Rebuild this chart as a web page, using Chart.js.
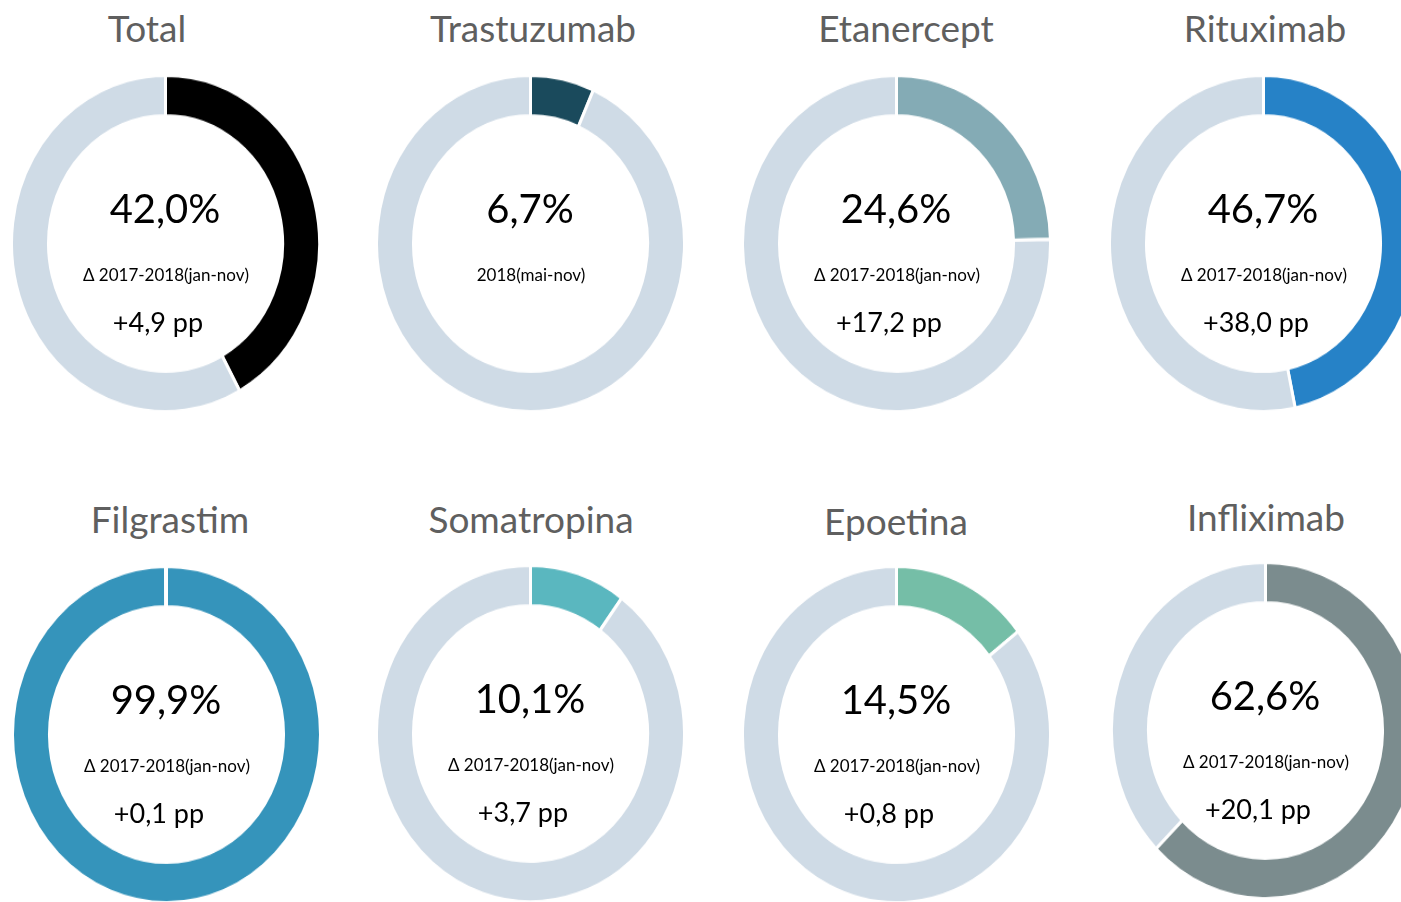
<!DOCTYPE html>
<html>
<head>
<meta charset="utf-8">
<script src="https://cdn.jsdelivr.net/npm/chart.js@4/dist/chart.umd.min.js"></script>
<style>
  html, body { margin: 0; padding: 0; background: #fff; }
  body { width: 1401px; height: 902px; overflow: hidden; position: relative; font-family: Lato, "Noto Sans", sans-serif; }
  .ring { position: absolute; width: 311px; height: 311px; transform: scaleY(1.092); transform-origin: 50% 50%; }
  .txt { position: absolute; white-space: nowrap; transform: translate(-50%, -50%); line-height: 1; }
  .title { color: #5f5f5f; font-size: 37px; }
  .pct { color: #000; font-size: 40px; }
  .delta { color: #000; font-size: 17px; }
  .pp { color: #000; font-size: 27px; }
</style>
</head>
<body>
<script>
// dados de cada gráfico (quota de biossimilares, %)
const nomes = ["Total", "Trastuzumab", "Etanercept", "Rituximab", "Filgrastim", "Somatropina", "Epoetina", "Infliximab"];
const quotas = [42.0, 6.7, 24.6, 46.7, 99.9, 10.1, 14.5, 62.6];
const quotasTxt = ["42,0%", "6,7%", "24,6%", "46,7%", "99,9%", "10,1%", "14,5%", "62,6%"];
const periodos = ["\u0394 2017-2018(jan-nov)", "2018(mai-nov)", "\u0394 2017-2018(jan-nov)", "\u0394 2017-2018(jan-nov)",
                  "\u0394 2017-2018(jan-nov)", "\u0394 2017-2018(jan-nov)", "\u0394 2017-2018(jan-nov)", "\u0394 2017-2018(jan-nov)"];
const variacoes = ["+4,9 pp", "", "+17,2 pp", "+38,0 pp", "+0,1 pp", "+3,7 pp", "+0,8 pp", "+20,1 pp"];
const cores = ["#000000", "#1a4a5c", "#84abb5", "#2682c7", "#3594bb", "#5ab7bf", "#75bea7", "#7b8c8e"];
const corResto = "#cfdbe6";

// posição de cada anel (centro) e do título
const layout = [
  { cx: 165, cy: 243, tx: 147, ty: 27 },
  { cx: 530, cy: 243, tx: 533, ty: 27 },
  { cx: 896, cy: 243, tx: 906, ty: 27 },
  { cx: 1263, cy: 243, tx: 1265, ty: 27 },
  { cx: 166, cy: 734, tx: 170, ty: 518 },
  { cx: 530, cy: 733, tx: 531, ty: 518 },
  { cx: 896, cy: 734, tx: 896, ty: 520 },
  { cx: 1265, cy: 730, tx: 1266, ty: 516 }
];

function addText(cls, text, x, y) {
  const d = document.createElement("div");
  d.className = "txt " + cls;
  d.textContent = text;
  d.style.left = x + "px";
  d.style.top = y + "px";
  document.body.appendChild(d);
}

nomes.forEach((nome, i) => {
  const L = layout[i];
  const wrap = document.createElement("div");
  wrap.className = "ring";
  wrap.style.left = (L.cx - 155.5) + "px";
  wrap.style.top = (L.cy - 155.5) + "px";
  wrap.innerHTML = `<canvas id="g${i}"></canvas>`;
  document.body.appendChild(wrap);

  new Chart(document.getElementById("g" + i), {
    type: "doughnut",
    data: {
      labels: [nome, "Outros"],
      datasets: [{
        data: [quotas[i], +(100 - quotas[i]).toFixed(1)],
        backgroundColor: [cores[i], corResto],
        borderColor: "#ffffff",
        borderWidth: 3
      }]
    },
    options: {
      responsive: true,
      maintainAspectRatio: false,
      animation: false,
      events: [],
      cutout: "76%",
      plugins: { legend: { display: false }, tooltip: { enabled: false } }
    }
  });

  addText("title", nome, L.tx, L.ty);
  addText("pct", quotasTxt[i], L.cx, L.cy - 35);
  addText("delta", periodos[i], L.cx + 1, L.cy + 31);
  if (variacoes[i]) addText("pp", variacoes[i], L.cx - 7, L.cy + 78);
});
</script>
</body>
</html>
